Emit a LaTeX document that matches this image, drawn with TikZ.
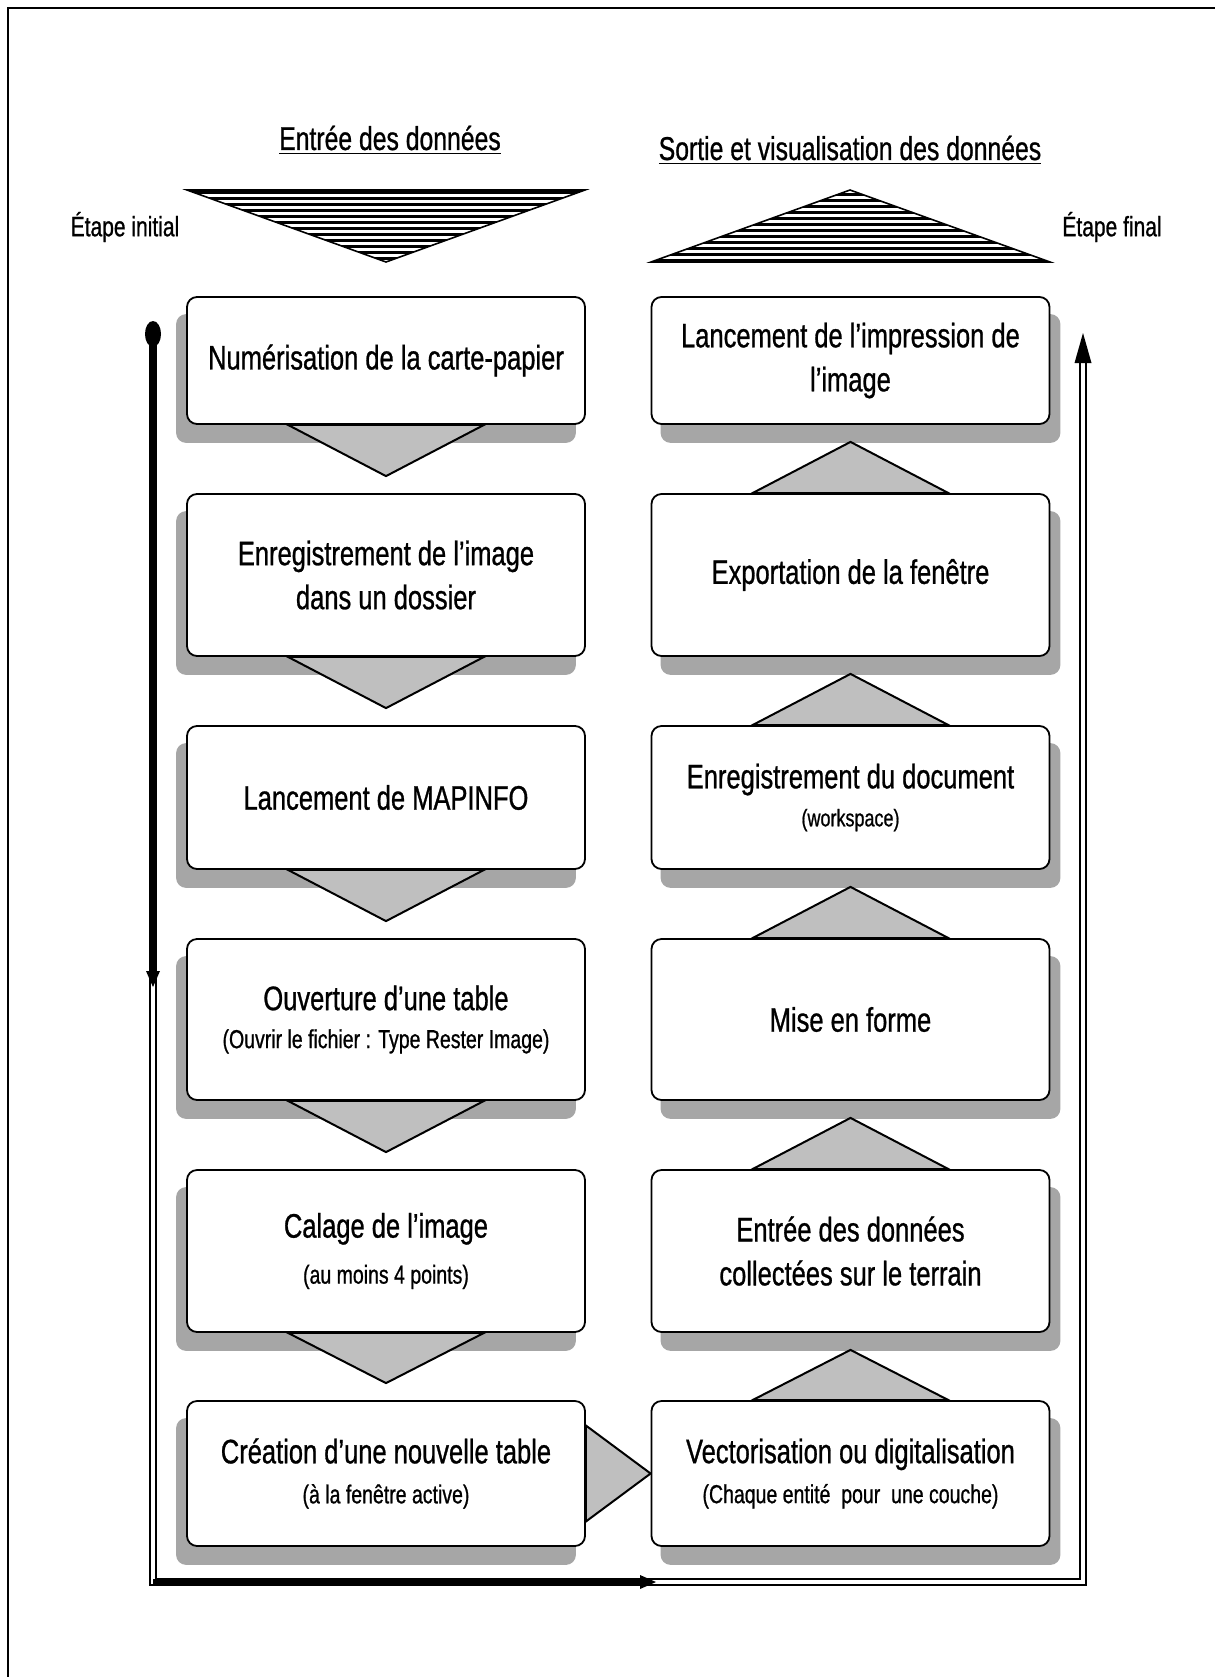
\documentclass[tikz,border=0pt]{standalone}
\usepackage{fontspec}
\setmainfont{Liberation Sans}[FakeStretch=0.75, FakeBold=0.8, AutoFakeBold=0.8]
\usepackage{tikz}
\usetikzlibrary{arrows.meta}

\pgfdeclarelayer{fond}
\pgfsetlayers{fond,main}

\tikzset{
 boite/.style={draw=black, line width=0.9pt, fill=white, rounded corners=5pt,
   minimum width=199pt, inner sep=0pt, align=center,
   font=\fontsize{17}{22}\selectfont},
 ombre/.style={fill=gray!70!white, rounded corners=5pt},
 fleche/.style={fill=gray!50!white, draw=black, line width=1pt},
 titre/.style={font=\fontsize{16.5}{20}\selectfont},
 etiq/.style={font=\fontsize{14}{16}\selectfont},
 lien/.style={double, double distance=2pt, line width=0.8pt}
}
\newcommand\sous{\fontsize{13}{16}\selectfont}

\begin{document}
\begin{tikzpicture}[x=0.5pt, y=-0.5pt]
\useasboundingbox (0,0) rectangle (1215,1677);

% cadre de la page
\draw[line width=1.3pt] (1215,8) -- (8,8) -- (8,1677);

% titres
\node[titre] (entree) at (390,140) {\underline{Entrée des données}};
\node[titre] (sortie) at (850,150) {\underline{Sortie et visualisation des données}};
\node[etiq] (initial) at (125,227) {Étape initial};
\node[etiq] (final) at (1112,227) {Étape final};

% triangles hachures
\begin{scope}
 \clip (187,190) -- (585,190) -- (386,262) -- cycle;
 \foreach \k in {0,...,11}
  \draw[line width=1.5pt] (150,{192+6*\k}) -- (620,{192+6*\k});
\end{scope}
\draw[line width=0.8pt] (187,190) -- (585,190) -- (386,262) -- cycle;

\begin{scope}
 \clip (651,262) -- (1050,262) -- (850,190) -- cycle;
 \foreach \k in {0,...,11}
  \draw[line width=1.5pt] (620,{260-6*\k}) -- (1080,{260-6*\k});
\end{scope}
\draw[line width=0.8pt] (651,262) -- (1050,262) -- (850,190) -- cycle;

% colonne de gauche : entree
\node[boite, minimum height=63.5pt] (scan) at (386,360.5) {Numérisation de la carte-papier};
\node[boite, minimum height=81pt] (save) at (386,575) {Enregistrement de l’image\\dans un dossier};
\node[boite, minimum height=71.5pt] (mapinfo) at (386,797.5) {Lancement de MAPINFO};
\node[boite, minimum height=80.5pt] (ouvre) at (386,1019.5)
 {Ouverture d’une table\\[-3pt]{\sous (Ouvrir le fichier : Type Rester Image)}};
\node[boite, minimum height=81pt] (calage) at (386,1251)
 {Calage de l’image\\[1pt]{\sous (au moins 4 points)}};
\node[boite, minimum height=72.5pt] (creation) at (386,1473.5)
 {Création d’une nouvelle table\\[-2pt]{\sous (à la fenêtre active)}};

% colonne de droite : sortie
\node[boite, minimum height=63.5pt] (impress) at (850.5,360.5) {Lancement de l’impression de\\l’image};
\node[boite, minimum height=81pt] (export) at (850.5,575) {Exportation de la fenêtre};
\node[boite, minimum height=71.5pt] (docu) at (850.5,797.5)
 {Enregistrement du document\\[-3pt]{\fontsize{12}{14}\selectfont (workspace)}};
\node[boite, minimum height=80.5pt] (forme) at (850.5,1019.5) {Mise en forme};
\node[boite, minimum height=81pt] (terrain) at (850.5,1251) {Entrée des données\\collectées sur le terrain};
\node[boite, minimum height=72.5pt] (vecto) at (850.5,1473.5)
 {Vectorisation ou digitalisation\\[-2pt]{\sous (Chaque entité\ \ pour\ \ une couche)}};

\begin{pgfonlayer}{fond}
% ombres
\foreach \n in {scan, save, mapinfo, ouvre, calage, creation}
 \fill[ombre] ([xshift=-5pt,yshift=-9pt]\n.south west) rectangle ([xshift=-5pt,yshift=-9pt]\n.north east);
\foreach \n in {impress, export, docu, forme, terrain, vecto}
 \fill[ombre] ([xshift=5pt,yshift=-9pt]\n.south west) rectangle ([xshift=5pt,yshift=-9pt]\n.north east);

% fleches grises entre les etapes
\foreach \a/\b in {scan/save, save/mapinfo, mapinfo/ouvre, ouvre/calage, calage/creation}
 \draw[fleche] ([xshift=-49pt]\a.south) -- ([yshift=8.5pt]\b.north) -- ([xshift=49pt]\a.south) -- cycle;
\foreach \a/\b in {vecto/terrain, terrain/forme, forme/docu, docu/export, export/impress}
 \draw[fleche] ([xshift=-49pt]\a.north) -- ([yshift=-8.5pt]\b.south) -- ([xshift=49pt]\a.north) -- cycle;
\draw[fleche] ([yshift=24pt]creation.east) -- (vecto.west) -- ([yshift=-24pt]creation.east) -- cycle;
\end{pgfonlayer}

% le parcours
\coordinate (debut) at (153,334);
\coordinate (coinG) at (153,1582);
\coordinate (coinD) at (1083,1582);
\coordinate (fin) at (1083,333);
\draw[lien] (debut) -- (coinG) -- (coinD) -- ([yshift=-14pt]fin);
\fill (fin) -- ++(-8.5,30) -- ++(17,0) -- cycle;

\draw[line width=2.6pt] (debut) -- (153,972);
\fill (153,987) -- ++(-7,-16) -- ++(14,0) -- cycle;
\draw[line width=2.6pt] (coinG) -- (642,1582);
\fill (656,1582) -- ++(-16,-7) -- ++(0,14) -- cycle;
\fill (debut) ellipse [x radius=4pt, y radius=6.5pt];

\end{tikzpicture}
\end{document}
